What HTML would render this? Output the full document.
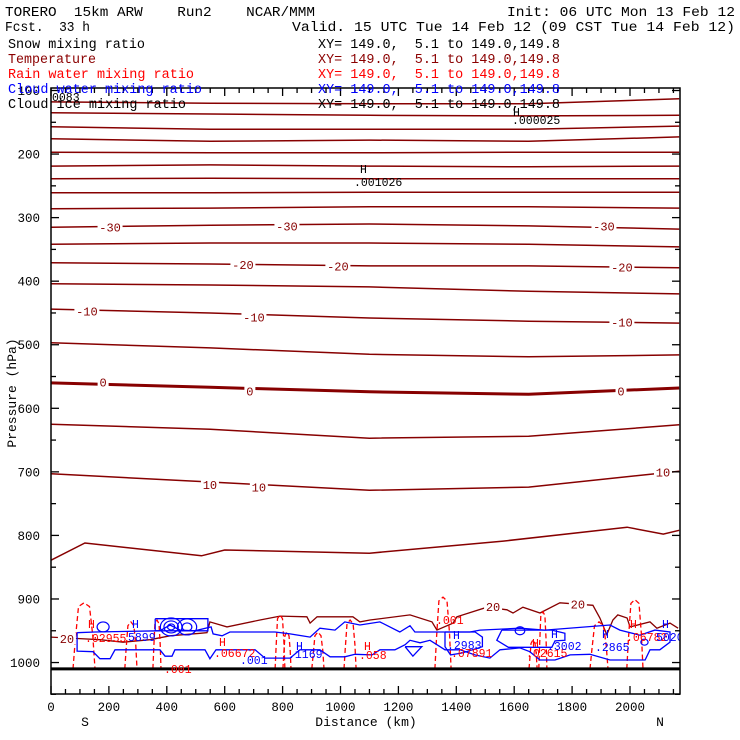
<!DOCTYPE html>
<html><head><meta charset="utf-8"><style>
html,body{margin:0;padding:0;background:#fff}
svg{display:block}
text{font-family:"Liberation Mono","DejaVu Sans Mono",monospace;white-space:pre}
</style></head><body>
<svg id="chart" width="740" height="740" viewBox="0 0 740 740" xmlns="http://www.w3.org/2000/svg" xml:space="preserve">
<rect x="0" y="0" width="740" height="740" fill="#fff"/>
<g id="plot"></g>
<g id="axes"></g>
<g id="header" font-size="13.5">
<text x="5" y="16" textLength="310" lengthAdjust="spacingAndGlyphs">TORERO  15km ARW    Run2    NCAR/MMM</text>
<text x="507" y="16" textLength="228" lengthAdjust="spacingAndGlyphs">Init: 06 UTC Mon 13 Feb 12</text>
<text x="5" y="31" textLength="85" lengthAdjust="spacingAndGlyphs">Fcst.  33 h</text>
<text x="292" y="31" textLength="443" lengthAdjust="spacingAndGlyphs">Valid. 15 UTC Tue 14 Feb 12 (09 CST Tue 14 Feb 12)</text>
<text x="8" y="48" textLength="137" lengthAdjust="spacingAndGlyphs">Snow mixing ratio</text>
<text x="318" y="48" textLength="242" lengthAdjust="spacingAndGlyphs">XY= 149.0,  5.1 to 149.0,149.8</text>
<text x="8" y="63" fill="#8b0000" textLength="88" lengthAdjust="spacingAndGlyphs">Temperature</text>
<text x="318" y="63" fill="#8b0000" textLength="242" lengthAdjust="spacingAndGlyphs">XY= 149.0,  5.1 to 149.0,149.8</text>
<text x="8" y="78" fill="#ff0000" textLength="186" lengthAdjust="spacingAndGlyphs">Rain water mixing ratio</text>
<text x="318" y="78" fill="#ff0000" textLength="242" lengthAdjust="spacingAndGlyphs">XY= 149.0,  5.1 to 149.0,149.8</text>
<text x="8" y="93" fill="#0000ff" textLength="194" lengthAdjust="spacingAndGlyphs">Cloud water mixing ratio</text>
<text x="318" y="93" fill="#0000ff" textLength="242" lengthAdjust="spacingAndGlyphs">XY= 149.0,  5.1 to 149.0,149.8</text>
<text x="8" y="108" textLength="178" lengthAdjust="spacingAndGlyphs">Cloud ice mixing ratio</text>
<text x="318" y="108" textLength="242" lengthAdjust="spacingAndGlyphs">XY= 149.0,  5.1 to 149.0,149.8</text>
</g>
</svg>
<script>
// ---- data ----
const xTicks = [0,200,400,600,800,1000,1200,1400,1600,1800,2000];
const yTicks = [100,200,300,400,500,600,700,800,900,1000];
const isoKm = [0,550,1100,1650,2170];
const isoP = [
 [118,120,121,121,113],[135,137,139,140,139],[157,161,161,161,156],[176,180,178,180,173],
 [197,198,198,197,197],[219,217,219,220,219],[239,238,239,239,239],[261,261,260,260,260],
 [286,285,283,283,285],[315,312,310,313,318],[342,340,340,342,346],[371,373,376,376,379],
 [404,406,409,416,420],[444,450,458,463,466],[497,505,515,519,516],[560,567,574,578,568],
 [625,633,647,644,626],[703,716,729,724,699]
];
const zeroIndex = 15;
const iso15Km = [0,117,520,600,1100,1562,1990,2115,2170];
const iso15P = [839,812,832,823,828,809,787,798,792];
const iso20Km = [0,83,169,249,342,411,515,539,549,608,722,791,884,895,919,1043,1067,1102,1240,1316,1333,1389,1402,1506,1575,1596,1630,1689,1758,1872,1896,1920,1941,1958,1990,2000,2069,2093,2138,2166];
const iso20P = [960,962,964,968,964,958,954,953,936,944,933,927,928,938,928,928,936,933,925,936,949,938,928,913,917,922,913,922,906,910,930,956,933,925,930,944,936,946,938,946];
const tempLabelText = ["-30","-30","-30","-20","-20","-20","-10","-10","-10","0","0","0","10","10","10","20","20","20"];
const tempLabelKm = [204,815,1910,663,991,1972,124,701,1972,180,687,1969,549,718,2114,1527,1820,55];
const tempLabelP = [315,313,313,374,376,378,447,456,464,559,573,573,720,724,700,912,908,962];
const cloudKm = [90,90,145,169,204,221,376,394,418,428,532,549,570,705,739,826,860,929,964,1015,1050,1109,1136,1188,1223,1240,1275,1309,1361,1413,1464,1516,1551,1620,1654,1689,1741,1793,1862,1931,2052,2069,2103,2138,2138,2086,2034,1965,1931,1706,1620,1482,1447,1257,1240,1205,1136,1067,1015,981,929,895,826,774,705,618,591,560,553,497,446,411,376,152,90];
const cloudP = [953,982,983,994,994,980,980,990,990,980,980,994,980,980,993,993,980,980,991,991,987,988,980,980,972,965,969,965,980,980,988,993,980,977,983,996,996,988,987,996,996,980,980,968,952,949,957,949,941,949,946,949,952,952,942,952,936,941,936,949,946,960,955,952,952,952,958,955,944,950,949,941,950,952,953];
const cloud2Km = [360,542,542,360,360];
const cloud2P = [931,931,950,950,931];
const cloud3Km = [1557,1730,1775,1775,1741,1730,1580,1540,1557];
const cloud3P = [949,949,954,965,966,976,976,965,949];
const cloud4Km = [1361,1465,1490,1490,1420,1380,1361,1361];
const cloud4P = [952,952,960,975,985,988,975,952];
const cloud5Km = [1223,1281,1250,1223];
const cloud5P = [975,975,990,975];
const circleKm = [415,415,415,470,470,180,2050,1620];
const circleP = [944,944,944,944,944,944,968,950];
const circleR = [3,6,9,4,8,5,3,4];
const rainKm = [114,276,366,791,815,922,1033,1354,1665,1699,1893,2017];
const rainTopP = [906,936,933,925,952,952,933,897,964,920,936,901];
const rainHalfW = [38,21,14,17,14,21,21,28,14,14,31,28];
const groundP = 1010;

// ---- scales ----
const X0=51, X1=680, Y0=88, Y1=694;
const X = km => X0 + km*0.2895;
const Y = p => 90.5 + (p-100)*0.6356;
const NS="http://www.w3.org/2000/svg";
const plot=document.getElementById('plot'), axes=document.getElementById('axes');
function mk(tag,attrs,parent){const e=document.createElementNS(NS,tag);for(const k in attrs)e.setAttribute(k,attrs[k]);parent.appendChild(e);return e;}
function poly(kms,ps,color,w,name,dash){
 const d=kms.map((k,i)=>(i?'L':'M')+X(k).toFixed(1)+','+Y(ps[i]).toFixed(1)).join('');
 const e=mk('path',{d:d,fill:'none',stroke:color,'stroke-width':w},plot);
 if(dash)e.setAttribute('stroke-dasharray',dash);
 
 
 return e;
}
const TC="#870000";
const cp=mk('clipPath',{id:'clip'},mk('defs',{},document.getElementById('chart')));
mk('rect',{x:X0,y:Y0,width:X1-X0,height:Y1-Y0},cp);
plot.setAttribute('clip-path','url(#clip)');

isoP.forEach((ps,i)=>{poly(isoKm,ps,TC,i===zeroIndex?3:1.5,'isotherm-line');});
poly(iso15Km,iso15P,TC,1.5,'isotherm-15');
poly(iso20Km,iso20P,TC,1.3,'isotherm-20');
rainKm.forEach((k,i)=>{
 const w=rainHalfW[i], t=rainTopP[i];
 const ks=[k-w,k-w*0.8,k-w*0.5,k,k+w*0.5,k+w*0.8,k+w];
 const ps=[groundP,(groundP+t)/2+8,t+6,t,t+6,(groundP+t)/2,groundP];
 poly(ks,ps,'#ff0000',1.3,'rain-contour','5,3');
});
poly(cloudKm,cloudP,'#0000ff',1.3,'cloud-water-contour');
poly(cloud2Km,cloud2P,'#0000ff',1.3,'cloud-water-contour');
poly(cloud3Km,cloud3P,'#0000ff',1.3,'cloud-water-contour');
poly(cloud4Km,cloud4P,'#0000ff',1.3,'cloud-water-contour');
poly(cloud5Km,cloud5P,'#0000ff',1.3,'cloud-water-contour');
circleKm.forEach((k,i)=>{
 const c=mk('ellipse',{cx:X(k),cy:Y(circleP[i]),rx:circleR[i]*1.2,ry:circleR[i],fill:'none',stroke:'#0000ff','stroke-width':1.2},plot);
 
 
});
const gl=mk('line',{x1:X0,x2:X1,y1:Y(groundP),y2:Y(groundP),stroke:'#000','stroke-width':3},plot);



tempLabelText.forEach((t,i)=>{
 const x=X(tempLabelKm[i]), y=Y(tempLabelP[i]);
 const w=t.length*7+4;
 mk('rect',{x:x-w/2,y:y-6,width:w,height:12,fill:'#fff'},plot);
 const e=mk('text',{x:x,y:y+4.5,'font-size':12,'text-anchor':'middle',fill:TC},plot);
 e.textContent=t;
 
 
});

const ann=[
 ["H",88,628,'#ff0000'],[".02955",85,642,'#ff0000'],["H",132,628,'#0000ff'],["5899",128,641,'#0000ff'],
 ["H",219,646,'#ff0000'],[".06672",214,657,'#ff0000'],[".001",240,664,'#0000ff'],[".001",164,673,'#ff0000'],
 ["H",296,650,'#0000ff'],[".1169",288,658,'#0000ff'],["H",364,650,'#ff0000'],[".058",359,659,'#ff0000'],
 [".001",436,624,'#ff0000'],["H",453,639,'#0000ff'],[".2983",447,649,'#0000ff'],[".07891",451,657,'#ff0000'],
 ["H",532,647,'#ff0000'],[".02615",526,657,'#ff0000'],["H",551,638,'#0000ff'],[".3002",547,650,'#0000ff'],
 ["H",602,638,'#0000ff'],[".2865",595,651,'#0000ff'],["H",630,628,'#ff0000'],[".06782",626,641,'#ff0000'],
 ["5020",656,641,'#0000ff'],["H",662,628,'#0000ff'],
 ["0083",52,101,'#000'],["H",360,173,'#000'],[".001026",354,186,'#000'],["H",513,116,'#000'],[".000025",512,124,'#000']
];
ann.forEach(a=>{
 const e=mk('text',{x:a[1],y:a[2],'font-size':11.5,fill:a[3]},plot);
 e.textContent=a[0];
 
 
});

const fr=mk('rect',{x:X0,y:Y0,width:X1-X0,height:Y1-Y0,fill:'none',stroke:'#000','stroke-width':1.5},axes);


for(let p=100;p<=1050;p+=50){
 const y=Y(p), L=(p%100===0)?8:5;
 mk('line',{x1:X0,x2:X0+L,y1:y,y2:y,stroke:'#000','stroke-width':1.3},axes);
 mk('line',{x1:X1-L,x2:X1,y1:y,y2:y,stroke:'#000','stroke-width':1.3},axes);
}
for(let k=0;k<=2150;k+=50){
 const x=X(k), L=(k%200===0)?8:5;
 mk('line',{x1:x,x2:x,y1:Y1-L,y2:Y1,stroke:'#000','stroke-width':1.3},axes);
 mk('line',{x1:x,x2:x,y1:Y0,y2:Y0+L,stroke:'#000','stroke-width':1.3},axes);
}
yTicks.forEach(p=>{
 const e=mk('text',{x:40,y:Y(p)+4.5,'font-size':12.5,'text-anchor':'end'},axes);
 e.textContent=p;
 
 
});
xTicks.forEach(k=>{
 const e=mk('text',{x:X(k),y:711,'font-size':12.5,'text-anchor':'middle'},axes);
 e.textContent=k;
 
 
});
const xt=mk('text',{x:366,y:726,'font-size':13,'text-anchor':'middle'},axes);
xt.textContent='Distance (km)';


const sl=mk('text',{x:85,y:726,'font-size':13,'text-anchor':'middle'},axes);
sl.textContent='S';


const nl=mk('text',{x:660,y:726,'font-size':13,'text-anchor':'middle'},axes);
nl.textContent='N';


const yt=mk('text',{x:0,y:0,'font-size':13,'text-anchor':'middle',transform:'translate(16,393) rotate(-90)'},axes);
yt.textContent='Pressure (hPa)';


</script>
</body></html>
